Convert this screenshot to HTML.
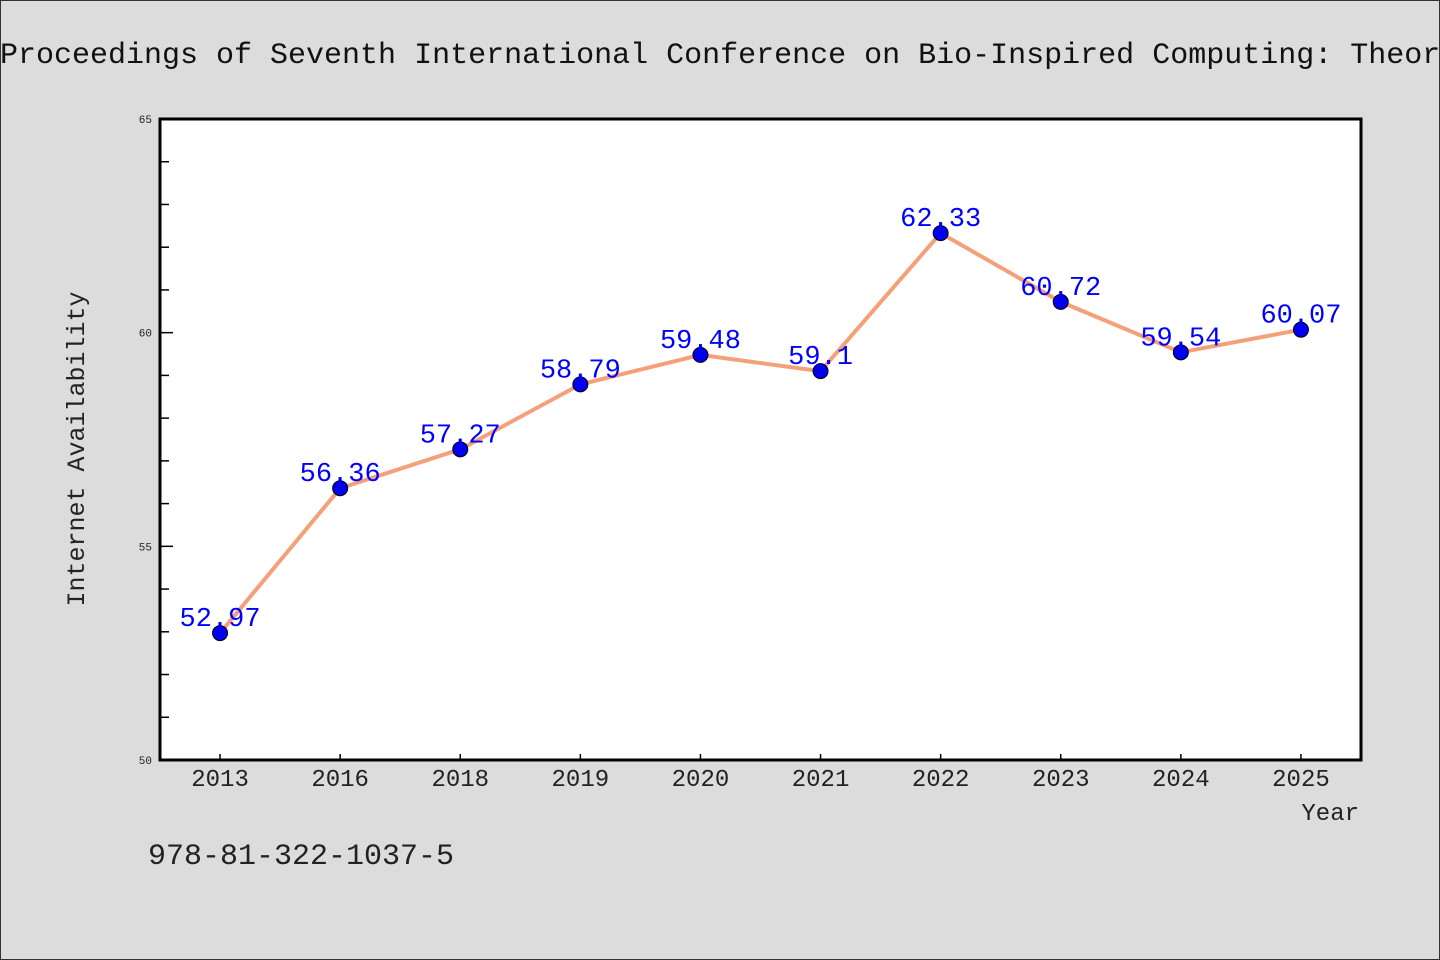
<!DOCTYPE html>
<html><head><meta charset="utf-8"><style>
html,body{margin:0;padding:0;background:#dcdcdc;}
svg{display:block;font-family:"WenQuanYi Zen Hei Mono","Liberation Mono",monospace;}
svg text{font-family:"WenQuanYi Zen Hei Mono","Liberation Mono",monospace;}
</style></head><body>
<svg id="chart" width="1440" height="960" viewBox="0 0 1440 960">
<rect x="0.5" y="0.5" width="1439" height="959" fill="#dcdcdc" stroke="#333"/>
<text x="0" y="63" font-size="30" fill="#111">Proceedings of Seventh International Conference on Bio-Inspired Computing: Theor</text>
<rect x="160" y="119" width="1201" height="641" fill="#fff"/>
<g id="axes"></g>
<g id="series"></g>
<rect x="160" y="119" width="1201" height="641" fill="none" stroke="#000" stroke-width="3"/>
<text x="84" y="449" font-size="25" fill="#222" text-anchor="middle" transform="rotate(-90 84 449)">Internet Availability</text>
<text x="1359" y="820" font-size="24" fill="#222" text-anchor="end">Year</text>
<text x="148" y="864" font-size="30" fill="#222">978-81-322-1037-5</text>
</svg>
<script>
const categories=["2013","2016","2018","2019","2020","2021","2022","2023","2024","2025"];
const values=[52.97,56.36,57.27,58.79,59.48,59.1,62.33,60.72,59.54,60.07];
const valueLabels=["52.97","56.36","57.27","58.79","59.48","59.1","62.33","60.72","59.54","60.07"];
const yTicks=[50,55,60,65];
const yMin=50,yMax=65;
const NS="http://www.w3.org/2000/svg";
const L=160,R=1361,T=119,B=760;
const step=(R-L)/categories.length;
function xs(i){return L+step*(i+0.5);}
function ys(v){return B-(v-yMin)/(yMax-yMin)*(B-T);}
function mk(tag,attrs,parent){const e=document.createElementNS(NS,tag);for(const k in attrs)e.setAttribute(k,attrs[k]);parent.appendChild(e);return e;}
const ax=document.getElementById('axes'),se=document.getElementById('series');
for(let v=yMin;v<=yMax;v++){
  const y=ys(v);const major=yTicks.includes(v);
  const t=mk('line',{x1:L,x2:L+(major?13:9),y1:y,y2:y,stroke:'#000','stroke-width':1.5},ax);
  
  
}
yTicks.forEach(v=>{
  const t=mk('text',{x:L-8,y:ys(v)+4,'font-size':11,'text-anchor':'end',fill:'#222'},ax);
  t.textContent=v;
  
  
});
categories.forEach((c,i)=>{
  const x=xs(i);
  const tk=mk('line',{x1:x,x2:x,y1:B,y2:B-6,stroke:'#000','stroke-width':1.5},ax);
  
  
  const t=mk('text',{x:x,y:B+26,'font-size':24,'text-anchor':'middle',fill:'#222'},ax);
  t.textContent=c;
  
  
});
const pts=values.map((v,i)=>xs(i)+','+ys(v)).join(' ');
const line=mk('polyline',{points:pts,fill:'none',stroke:'#f4a07a','stroke-width':4,'stroke-linejoin':'round'},se);


values.forEach((v,i)=>{
  const c=mk('circle',{cx:xs(i),cy:ys(v),r:7.5,fill:'#0000ee',stroke:'#000','stroke-width':1},se);
  
  
});
values.forEach((v,i)=>{
  const t=mk('text',{x:xs(i),y:ys(v)-7,'font-size':27,'text-anchor':'middle',fill:'#0000ff'},se);
  t.textContent=valueLabels[i];
  
  
});
</script>
</body></html>
